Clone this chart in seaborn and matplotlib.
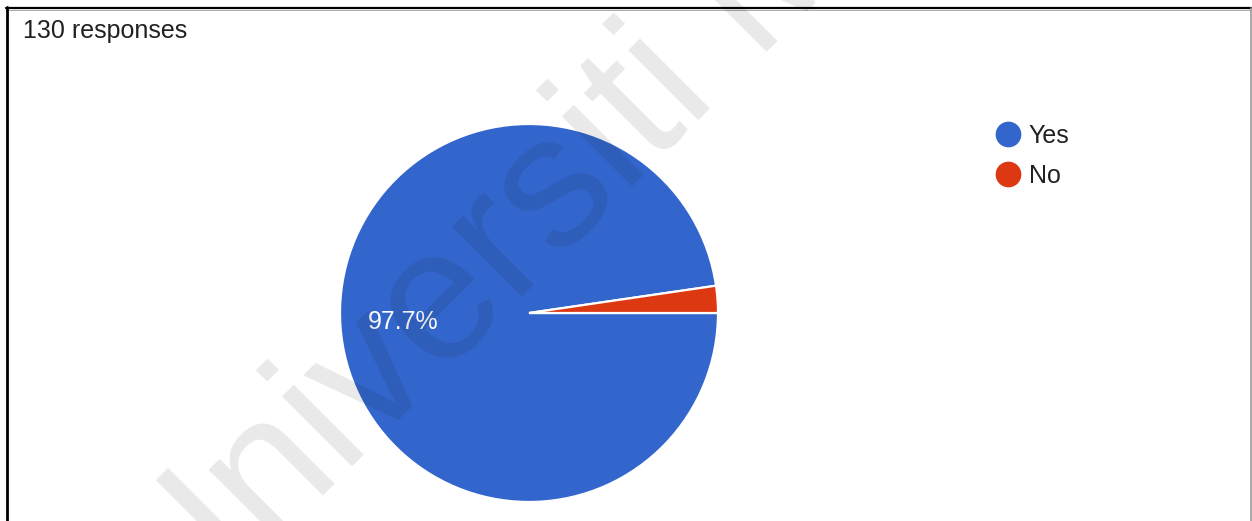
import matplotlib
matplotlib.use("Agg")
import matplotlib.pyplot as plt
from matplotlib.lines import Line2D
import seaborn as sns

# Survey data
categories = ["Yes", "No"]
counts = [127, 3]
total_responses = 130
slice_colors = ["#3366cc", "#dc3912"]

sns.set_theme(style="white")
plt.rcParams["font.family"] = ["Liberation Sans", "DejaVu Sans"]

W, H = 1252, 521
fig = plt.figure(figsize=(W / 100, H / 100), dpi=100)
fig.patch.set_facecolor("white")

# Pie axes: centre (528, 313) px, radius 189 px
cx, cy, r = 529, 313, 189
ax = fig.add_axes([(cx - r) / W, (H - cy - r) / H, 2 * r / W, 2 * r / H])
wedges, texts, autotexts = ax.pie(
    counts,
    colors=slice_colors,
    startangle=0,
    counterclock=False,
    autopct=lambda p: f"{p:.1f}%" if p > 5 else "",
    pctdistance=0.665,
    wedgeprops=dict(edgecolor="white", linewidth=1.6),
    textprops=dict(color="white", fontsize=18),
)
ax.set_xlim(-1, 1)
ax.set_ylim(-1, 1)
ax.set_aspect("equal")
ax.axis("off")

# Header
fig.text(23 / W, 1 - 38 / H, f"{total_responses} responses", fontsize=18,
         color="#212121", ha="left", va="baseline")

# Legend with round markers
handles = [Line2D([0], [0], marker="o", linestyle="none", markersize=17.5,
                  markerfacecolor=c, markeredgecolor=c) for c in slice_colors]
fig.legend(handles, categories, loc="upper left",
           bbox_to_anchor=(995 / W, 1 - 124 / H), frameon=False,
           fontsize=18, labelcolor="#212121", handletextpad=0.35,
           labelspacing=0.63, borderpad=0, borderaxespad=0,
           handlelength=1.0)

# Watermark across the figure
fig.text(174 / W, 1 - 644 / H, "Universiti Malaya", fontsize=135,
         rotation=45, rotation_mode="anchor", ha="left", va="baseline",
         color="black", alpha=0.09, zorder=10)

# Frame lines
fig.add_artist(Line2D([6 / W, 1], [1 - 8 / H, 1 - 8 / H], transform=fig.transFigure,
                      color="black", linewidth=1.6))
fig.add_artist(Line2D([6 / W, 1], [1 - 10 / H, 1 - 10 / H], transform=fig.transFigure,
                      color="#aaaaaa", linewidth=0.7))
fig.add_artist(Line2D([6.5 / W, 6.5 / W], [0, 1 - 7 / H], transform=fig.transFigure,
                      color="black", linewidth=2.0))
fig.add_artist(Line2D([1250.5 / W, 1250.5 / W], [0, 1 - 8 / H], transform=fig.transFigure,
                      color="#999999", linewidth=1.2))

fig.savefig("out.png", dpi=100, facecolor="white")
